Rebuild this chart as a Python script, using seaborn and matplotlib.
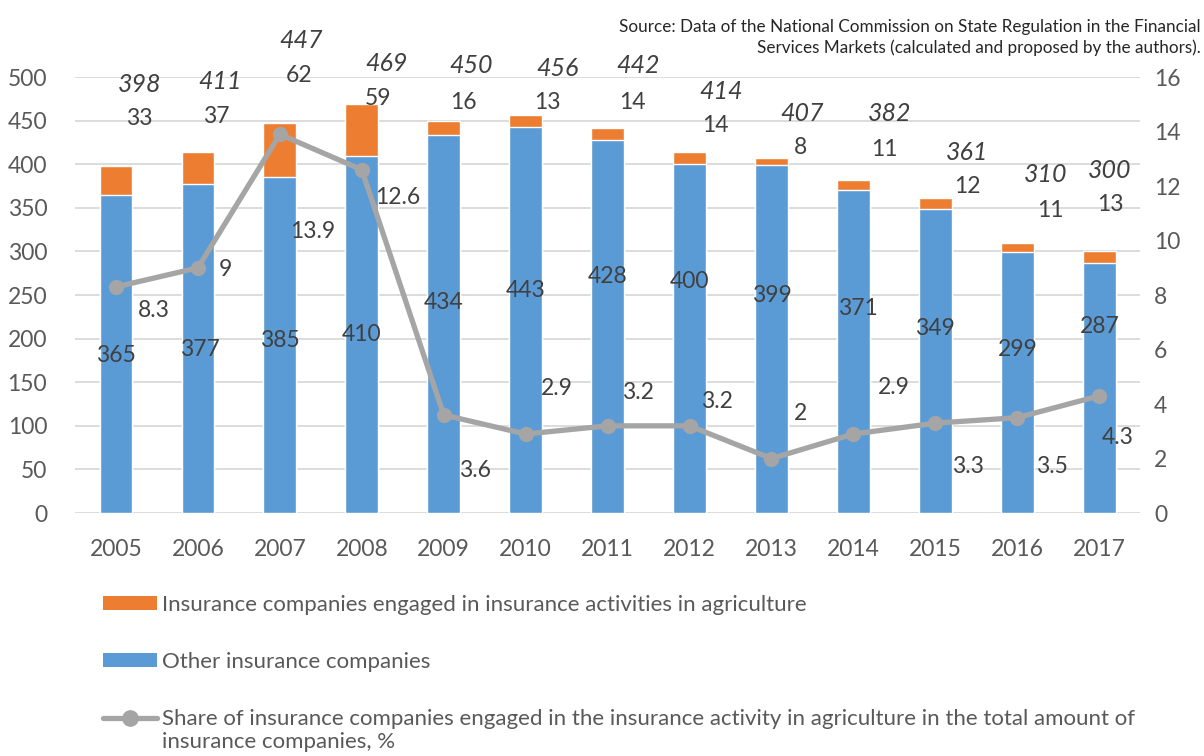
import numpy as np
import pandas as pd
import matplotlib
matplotlib.use("Agg")
import matplotlib.pyplot as plt
import seaborn as sns
from matplotlib.patches import Patch
from matplotlib.lines import Line2D

# Data
years = ["2005", "2006", "2007", "2008", "2009", "2010", "2011",
         "2012", "2013", "2014", "2015", "2016", "2017"]
other = [365, 377, 385, 410, 434, 443, 428, 400, 399, 371, 349, 299, 287]
agri = [33, 37, 62, 59, 16, 13, 14, 14, 8, 11, 12, 11, 13]
totals = [398, 411, 447, 469, 450, 456, 442, 414, 407, 382, 361, 310, 300]
share = [8.3, 9, 13.9, 12.6, 3.6, 2.9, 3.2, 3.2, 2, 2.9, 3.3, 3.5, 4.3]

# Label placement (category offset, left-axis units), as in the original layout
other_lbl_dx = [0, 0.02, 0, 0, 0, 0, 0, 0, 0, 0.06, 0, 0, 0.01]
other_lbl_y = [181, 188, 198, 205, 242, 255, 271, 266, 249, 235, 212, 187, 214]
agri_lbl_dx = [0.29, 0.22, 0.24, 0.2, 0.24, 0.27, 0.3, 0.32, 0.35, 0.38, 0.39, 0.4, 0.13]
agri_lbl_y = [452, 455, 502, 475, 471, 471, 471, 444, 419, 417, 374, 347, 354]
tot_lbl_dx = [0.29, 0.27, 0.26, 0.3, 0.33, 0.39, 0.37, 0.38, 0.37, 0.44, 0.39, 0.35, 0.13]
tot_lbl_y = [492, 495, 542, 516, 513, 510, 513, 483, 458, 458, 414, 388, 393]
share_lbl_dx = [0.46, 0.34, 0.4, 0.44, 0.38, 0.38, 0.37, 0.33, 0.35, 0.49, 0.4, 0.42, 0.22]
share_lbl_y = [232, 279, 323, 362, 49, 143, 138, 128, 114, 144, 53, 53, 87]

blue = "#5B9BD5"
orange = "#ED7D31"
gray = "#A5A5A5"
txt = "#404040"
tick_col = "#595959"

sns.set_theme(style="white")
plt.rcParams["font.family"] = ["Lato", "DejaVu Sans"]

df = pd.DataFrame({"year": years, "other": other, "agri": agri})
df["stack"] = df["other"] + df["agri"]

fig = plt.figure(figsize=(12.04, 7.56), dpi=100)
ax1 = fig.add_axes([0.0623, 0.3214, 0.8847, 0.5766])
ax2 = ax1.twinx()

sns.barplot(data=df, x="year", y="stack", color=orange, width=0.4,
            saturation=1, ax=ax1)
sns.barplot(data=df, x="year", y="other", color=blue, width=0.4,
            saturation=1, ax=ax1)

xpos = np.arange(len(years))
sns.lineplot(x=xpos, y=share, ax=ax2, color=gray, linewidth=3.8,
             marker="o", markersize=11, markeredgewidth=0)

ax1.set_ylim(0, 500)
ax2.set_ylim(0, 16)
ax1.set_xlim(-0.5, len(years) - 0.5)
ax1.set_yticks(range(0, 501, 50))
ax2.set_yticks(range(0, 17, 2))
ax1.yaxis.grid(True, color="#D9D9D9", linewidth=1.3)
ax1.set_axisbelow(True)
ax1.set_xlabel("")
ax1.set_ylabel("")
ax2.set_ylabel("")
for ax in (ax1, ax2):
    for s in ax.spines.values():
        s.set_visible(False)
ax1.tick_params(axis="y", labelsize=16.5, colors=tick_col, length=0, pad=20)
ax1.tick_params(axis="x", labelsize=16.5, colors=tick_col, length=0, pad=19)
ax2.tick_params(axis="y", labelsize=16.5, colors=tick_col, length=0, pad=10)

# data labels
for i in range(len(years)):
    ax1.text(i + other_lbl_dx[i], other_lbl_y[i], str(other[i]), ha="center",
             va="center", fontsize=16.5, color=txt)
    ax1.text(i + agri_lbl_dx[i], agri_lbl_y[i], str(agri[i]), ha="center",
             va="center", fontsize=16.5, color=txt, clip_on=False)
    ax1.text(i + tot_lbl_dx[i], tot_lbl_y[i], str(totals[i]), ha="center",
             va="center", fontsize=18, color=txt, style="italic", clip_on=False)
    ax1.text(i + share_lbl_dx[i], share_lbl_y[i], f"{share[i]:g}", ha="center",
             va="center", fontsize=16.5, color=txt)

# source note
fig.text(0.997, 0.975, "Source: Data of the National Commission on State Regulation in the Financial\n"
         "Services Markets (calculated and proposed by the authors).",
         ha="right", va="top", fontsize=12.3, color="#262626", linespacing=1.3)

# legend
handles = [Patch(facecolor=orange, edgecolor="none"),
           Patch(facecolor=blue, edgecolor="none"),
           Line2D([0], [0], color=gray, linewidth=3.8, marker="o", markersize=11)]
labels = ["Insurance companies engaged in insurance activities in agriculture",
          "Other insurance companies",
          "Share of insurance companies engaged in the insurance activity in agriculture in the total amount of"]
leg = fig.legend(handles, labels, loc="upper left", bbox_to_anchor=(0.078, 0.225),
                 frameon=False, fontsize=16, labelspacing=1.67, handlelength=2.45,
                 handleheight=0.55, handletextpad=0.2, borderaxespad=0)
for t in leg.get_texts():
    t.set_color(tick_col)

# second line of the last legend entry
fig.canvas.draw()
bb = leg.get_texts()[2].get_window_extent().transformed(fig.transFigure.inverted())
fig.text(bb.x0, bb.y0 - 0.004, "insurance companies, %", ha="left", va="top",
         fontsize=16, color=tick_col)

fig.savefig("out.png", dpi=100)
